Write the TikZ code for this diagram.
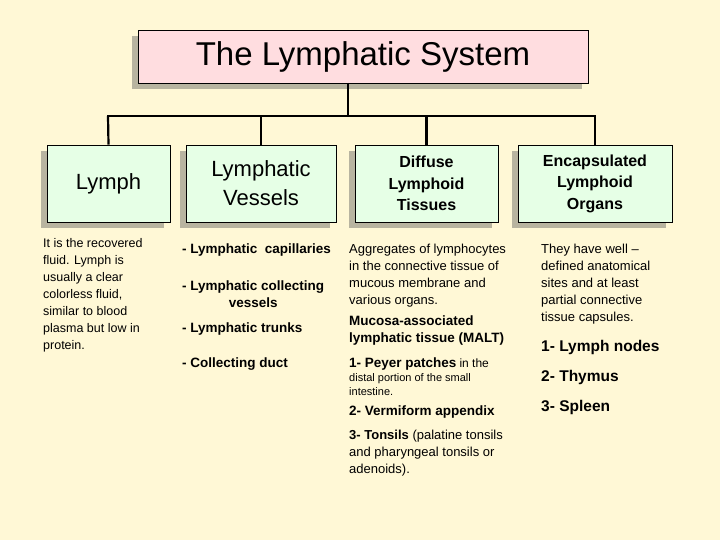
\documentclass[tikz,border=0pt]{standalone}
\usepackage{fontspec}
\setmainfont{Liberation Sans}
\begin{document}
\begin{tikzpicture}[x=1pt,y=-1pt,
 box/.style={draw=black,line width=0.8pt,fill=greenf,align=center,inner sep=0pt},
 ln/.style={line width=2.2pt},
 body/.style={anchor=north west,align=left,font=\fontsize{13}{17}\selectfont,inner sep=0pt},
 bv/.style={anchor=north west,align=left,font=\fontsize{13.5}{17}\selectfont\bfseries,inner sep=0pt},
 big/.style={anchor=north west,font=\fontsize{15.5}{18}\selectfont\bfseries,inner sep=0pt}]
\definecolor{bg}{HTML}{FFF8D6}
\definecolor{pinkf}{HTML}{FFDDE0}
\definecolor{greenf}{HTML}{E6FFE6}
\definecolor{sh}{HTML}{B8B4A0}
\useasboundingbox (0,0) rectangle (720,540);
\fill[bg] (0,0) rectangle (720,540);
\fill[sh] (132,36) rectangle (582,89);
\fill[sh] (41,151) rectangle (164,228);
\fill[sh] (180,151) rectangle (330,228);
\fill[sh] (349,151) rectangle (492,228);
\fill[sh] (512,151) rectangle (666,228);
\node[draw,line width=0.8pt,fill=pinkf,minimum width=450,minimum height=53,font=\fontsize{33}{36}\selectfont,inner sep=0pt] (t) at (363,56.5) {The Lymphatic System};
\node[box,minimum width=123,minimum height=77,font=\fontsize{22}{29}\selectfont] (l) at (108.5,183.5) {Lymph};
\node[box,minimum width=150,minimum height=77,font=\fontsize{22}{29}\selectfont] (v) at (261,183.5) {Lymphatic\\Vessels};
\node[box,minimum width=143,minimum height=77,font=\fontsize{16}{21.5}\selectfont\bfseries] (d) at (426.5,183.5) {Diffuse\\Lymphoid\\Tissues};
\node[box,minimum width=154,minimum height=77,font=\fontsize{16}{21.5}\selectfont\bfseries] (e) at (595,183.5) {Encapsulated\\Lymphoid\\Organs};
\coordinate (hl) at (108,116);
\coordinate (hr) at (595,116);
\draw[ln] (348,83) -- (348,116);
\draw[ln,line cap=rect] (hl) -- (hr);
\draw[ln] (hl) -- (l.north);
\draw[ln] (v.north |- hl) -- (v.north);
\draw[ln] (d.north |- hl) -- (d.north);
\draw[ln] (hr) -- (e.north);
% text
\node[body,font=\fontsize{12.5}{17}\selectfont] (lt) at (43,238) {It is the recovered\\fluid. Lymph is\\usually a clear\\colorless fluid,\\similar to blood\\plasma but low in\\protein.};
\node[bv] (v1) at (182,244) {- Lymphatic\ \ capillaries};
\node[bv,align=center] (v2) at (182,281) {- Lymphatic collecting\\vessels};
\node[bv] (v3) at (182,323) {- Lymphatic trunks};
\node[bv] (v4) at (182,358) {- Collecting duct};
\node[body] (d1) at (349,244) {Aggregates of lymphocytes\\in the connective tissue of\\mucous membrane and\\various organs.};
\node[bv] (d2) at (349,316) {Mucosa-associated\\lymphatic tissue (MALT)};
\node[body,font=\fontsize{11}{14}\selectfont] (d3) at (349,358) {{\fontsize{13.5}{14}\selectfont\bfseries 1- Peyer patches} {\fontsize{12}{14}\selectfont in the}\\distal portion of the small\\intestine.};
\node[bv] (d4) at (349,406) {2- Vermiform appendix};
\node[body] (d5) at (349,430) {\textbf{3- Tonsils} (palatine tonsils\\and pharyngeal tonsils or\\adenoids).};
\node[body] (e1) at (541,244) {They have well --\\defined anatomical\\sites and at least\\partial connective\\tissue capsules.};
\node[big] (e2) at (541,340) {1- Lymph nodes};
\node[big] (e3) at (541,370) {2- Thymus};
\node[big] (e4) at (541,400) {3- Spleen};
\end{tikzpicture}
\end{document}
